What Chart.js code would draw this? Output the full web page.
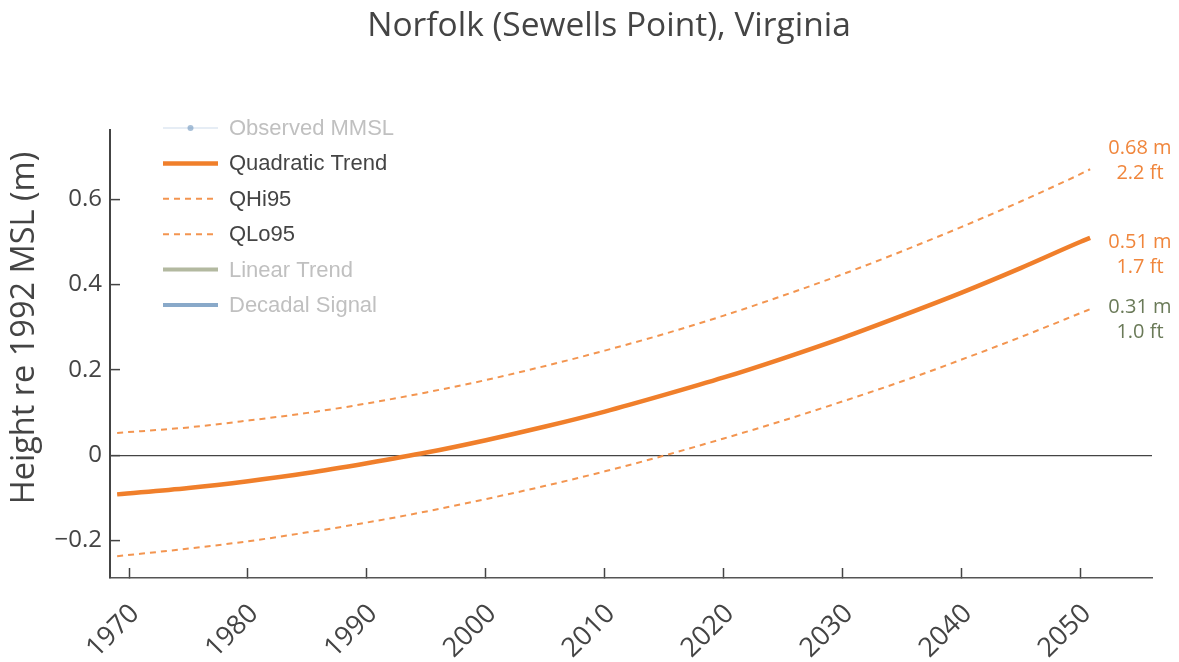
<!DOCTYPE html>
<html lang="en">
<head>
    <meta charset="UTF-8">
    <title>Norfolk (Sewells Point), Virginia</title>
    <script src="https://cdn.jsdelivr.net/npm/chart.js"></script>
    <style>
        body {
            margin: 0;
            background-color: #ffffff;
        }

        .wrap {
            position: relative;
            width: 1179px;
            height: 662px;
        }
    </style>
</head>
<body>
    <div class="wrap"><canvas id="slrChart"></canvas></div>

    <script>
        const chartTitle = 'Norfolk (Sewells Point), Virginia';
        const yTitle = 'Height re 1992 MSL (m)';

        // years of the plotted points (last one is where the curves stop)
        const years = [1969, 1975, 1980, 1985, 1990, 1995, 2000, 2005, 2010, 2015, 2020, 2025, 2030, 2035, 2040, 2045, 2050, 2050.8];
        const quadTrend = [-0.092, -0.077, -0.061, -0.042, -0.019, 0.006, 0.035, 0.067, 0.102, 0.141, 0.182, 0.227, 0.275, 0.327, 0.381, 0.439, 0.500, 0.509];
        const qHi95 = [0.052, 0.065, 0.081, 0.099, 0.121, 0.147, 0.176, 0.209, 0.245, 0.284, 0.327, 0.374, 0.424, 0.478, 0.535, 0.595, 0.659, 0.670];
        const qLo95 = [-0.237, -0.219, -0.202, -0.181, -0.158, -0.132, -0.103, -0.072, -0.038, -0.001, 0.039, 0.081, 0.126, 0.173, 0.224, 0.277, 0.333, 0.342];

        const xTicks = [1970, 1980, 1990, 2000, 2010, 2020, 2030, 2040, 2050];
        const yTicks = [-0.2, 0, 0.2, 0.4, 0.6];

        // end-of-curve notes (2050)
        const endMeters = [0.68, 0.51, 0.31];
        const endFeet = [2.2, 1.7, 1.0];
        const endLabelAt = [0.69, 0.47, 0.317];
        const endColors = ['#f0863c', '#f0863c', '#6a7a58'];

        const toPoints = vals => years.map((x, i) => ({ x: x, y: vals[i] }));

        // title, y axis title, legend inside the plot and the end labels
        const extras = {
            id: 'extras',
            afterDraw(chart) {
                const ctx = chart.ctx;
                const area = chart.chartArea;
                const yScale = chart.scales.y;
                ctx.save();

                ctx.fillStyle = '#444';
                ctx.font = '33.5px "Open Sans", sans-serif';
                ctx.textAlign = 'center';
                ctx.textBaseline = 'middle';
                ctx.fillText(chartTitle, 609, 26);

                ctx.save();
                ctx.translate(25, 328);
                ctx.rotate(-Math.PI / 2);
                ctx.font = '32.5px "Open Sans", sans-serif';
                ctx.fillText(yTitle, 0, 0);
                ctx.restore();

                // legend
                const lx = area.left + 53;
                const ly = area.top - 2;
                ctx.font = '22px "Liberation Sans", Arial, sans-serif';
                ctx.textAlign = 'left';
                chart.data.datasets.forEach((ds, i) => {
                    const y = ly + i * 35.4;
                    const shown = chart.isDatasetVisible(i);
                    ctx.globalAlpha = shown ? 1 : 0.6;
                    ctx.strokeStyle = ds.borderColor;
                    ctx.lineWidth = ds.borderWidth;
                    ctx.setLineDash(ds.borderDash || []);
                    ctx.beginPath();
                    ctx.moveTo(lx, y);
                    ctx.lineTo(lx + 55, y);
                    ctx.stroke();
                    ctx.setLineDash([]);
                    if (ds.pointRadius > 0) {
                        ctx.fillStyle = ds.pointBackgroundColor;
                        ctx.beginPath();
                        ctx.arc(lx + 27.5, y, ds.pointRadius, 0, Math.PI * 2);
                        ctx.fill();
                    }
                    ctx.globalAlpha = 1;
                    ctx.fillStyle = shown ? '#444' : '#c0c0c0';
                    ctx.fillText(ds.label, lx + 66, y + 1);
                });

                // end labels
                ctx.font = '20px "Open Sans", sans-serif';
                ctx.textAlign = 'center';
                endMeters.forEach((m, i) => {
                    const yc = yScale.getPixelForValue(endLabelAt[i]);
                    ctx.fillStyle = endColors[i];
                    ctx.fillText(m.toFixed(2) + ' m', area.right - 12, yc - 12.5);
                    ctx.fillText(endFeet[i].toFixed(1) + ' ft', area.right - 12, yc + 12.5);
                });
                ctx.restore();
            }
        };

        new Chart(document.getElementById('slrChart'), {
            type: 'line',
            data: {
                datasets: [
                    {
                        label: 'Observed MMSL', data: [], hidden: true,
                        borderColor: '#d5e1ee', borderWidth: 2,
                        pointRadius: 3, pointBackgroundColor: '#6e96be'
                    },
                    {
                        label: 'Quadratic Trend', data: toPoints(quadTrend),
                        borderColor: '#f07f2b', borderWidth: 4.5, pointRadius: 0
                    },
                    {
                        label: 'QHi95', data: toPoints(qHi95),
                        borderColor: '#f39550', borderWidth: 2, borderDash: [6, 5], pointRadius: 0
                    },
                    {
                        label: 'QLo95', data: toPoints(qLo95),
                        borderColor: '#f39550', borderWidth: 2, borderDash: [6, 5], pointRadius: 0
                    },
                    {
                        label: 'Linear Trend', data: [], hidden: true,
                        borderColor: '#808a61', borderWidth: 4, pointRadius: 0
                    },
                    {
                        label: 'Decadal Signal', data: [], hidden: true,
                        borderColor: '#3a6fa5', borderWidth: 4, pointRadius: 0
                    }
                ]
            },
            options: {
                responsive: true,
                maintainAspectRatio: false,
                animation: false,
                cubicInterpolationMode: 'monotone',
                layout: { padding: { top: 130, right: 27 } },
                plugins: {
                    legend: { display: false },
                    tooltip: { enabled: false }
                },
                scales: {
                    x: {
                        type: 'linear',
                        min: 1968.4,
                        max: 2056,
                        afterBuildTicks: s => { s.ticks = xTicks.map(v => ({ value: v })); },
                        afterFit: s => { s.height = 84; },
                        ticks: {
                            minRotation: 45,
                            maxRotation: 45,
                            padding: 30,
                            labelOffset: 6,
                            color: '#444',
                            font: { family: 'Open Sans', size: 27 },
                            callback: v => String(v)
                        },
                        grid: { drawOnChartArea: false, tickLength: -10, tickColor: '#444', tickWidth: 1.5 },
                        border: { color: '#555', width: 1.5 }
                    },
                    y: {
                        min: -0.288,
                        max: 0.762,
                        afterBuildTicks: s => { s.ticks = yTicks.map(v => ({ value: v })); },
                        afterFit: s => { s.width = 110; },
                        ticks: {
                            padding: 18,
                            color: '#444',
                            font: { family: 'Open Sans', size: 24 },
                            callback: v => v === 0 ? '0' : (v < 0 ? '\u2212' + Math.abs(v).toFixed(1) : v.toFixed(1))
                        },
                        grid: {
                            color: c => (c.tick && c.tick.value === 0) ? '#444' : 'rgba(0,0,0,0)',
                            lineWidth: 1.2,
                            tickLength: -10,
                            tickColor: '#444',
                            tickWidth: 1.5
                        },
                        border: { color: '#444', width: 2 }
                    }
                }
            },
            plugins: [extras]
        });
    </script>
</body>
</html>
